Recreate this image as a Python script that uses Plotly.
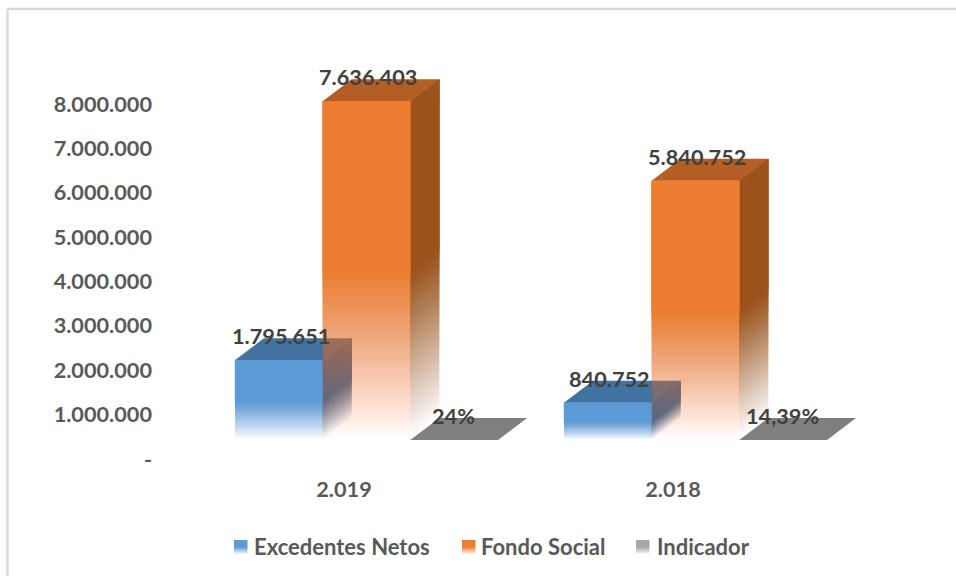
import plotly.graph_objects as go

categories = ["2.019", "2.018"]
series_names = ["Excedentes Netos", "Fondo Social", "Indicador"]
excedentes = [1795651, 840752]
fondo = [7636403, 5840752]
indicador = [0.24, 0.1439]
labels_exc = ["1.795.651", "840.752"]
labels_fon = ["7.636.403", "5.840.752"]
labels_ind = ["24%", "14,39%"]
y_ticks = [0, 1e6, 2e6, 3e6, 4e6, 5e6, 6e6, 7e6, 8e6]
y_ticktext = ["-", "1.000.000", "2.000.000", "3.000.000", "4.000.000",
              "5.000.000", "6.000.000", "7.000.000", "8.000.000"]

W, H = 956, 576
FONT = "Lato"
PX_PER_UNIT_Y = 44.375 / 1e6
PX_PER_CAT = 329.0
BAR_W = 87.7 / PX_PER_CAT
DEPTH_X = 29 / PX_PER_CAT
DEPTH_Y = 22 / PX_PER_UNIT_Y
N = 40
FADE = 0.5  # lower part of each bar that fades out


def rgba(c, a):
    return f"rgba({c[0]},{c[1]},{c[2]},{a:.4f})"


def bands(value):
    """Nested layers (base, alpha): each runs from base to the top of the column;
    together they build up a smooth vertical fade without seams."""
    out = []
    prev = 0.0
    step = value * FADE / N
    for k in range(N):
        target = (k + 0.5) / N
        out.append((k * step, 1 - (1 - target) / (1 - prev)))
        prev = target
    out.append((value * FADE, 1.0))
    return out


FRONT = {"Excedentes Netos": (91, 155, 213), "Fondo Social": (237, 125, 49)}
TOP = {"Excedentes Netos": (66, 114, 160), "Fondo Social": (178, 94, 37)}
SIDE = {"Excedentes Netos": (62, 104, 150), "Fondo Social": (156, 82, 27)}

fig = go.Figure()
shapes = []


def para_side(x, y0, y1, color, alpha):
    return dict(type="path", xref="x", yref="y", layer="below", line_width=0,
                fillcolor=rgba(color, alpha),
                path=f"M{x},{y0} L{x + DEPTH_X},{y0 + DEPTH_Y} "
                     f"L{x + DEPTH_X},{y1 + DEPTH_Y} L{x},{y1} Z")


def para_top(x, y, color):
    return dict(type="path", xref="x", yref="y", layer="below", line_width=0,
                fillcolor=rgba(color, 1),
                path=f"M{x},{y} L{x + BAR_W},{y} L{x + BAR_W + DEPTH_X},{y + DEPTH_Y} "
                     f"L{x + DEPTH_X},{y + DEPTH_Y} Z")


for j, (name, vals) in enumerate(zip(series_names[:2], [excedentes, fondo])):
    xs, bases, heights, colors = [], [], [], []
    for i, v in enumerate(vals):
        left = i + (j - 1.5) * BAR_W
        for b, a in bands(v):
            xs.append(i)
            bases.append(b)
            heights.append(v - b)
            colors.append(rgba(FRONT[name], a))
            shapes.append(para_side(left + BAR_W, b, v, SIDE[name], a))
        shapes.append(para_top(left, v, TOP[name]))
    fig.add_trace(go.Bar(x=xs, y=heights, base=bases, width=BAR_W,
                         offset=(j - 1.5) * BAR_W, name=name, showlegend=False,
                         marker=dict(color=colors, line_width=0), hoverinfo="skip"))

# Indicador: values are so small on this scale that only the top face shows
fig.add_trace(go.Bar(x=[0, 1], y=indicador, width=BAR_W, offset=0.5 * BAR_W,
                     name=series_names[2], showlegend=False,
                     marker=dict(color="#7f7f7f", line_width=0), hoverinfo="skip"))
for i, v in enumerate(indicador):
    shapes.append(para_top(i + 0.5 * BAR_W, v, (127, 127, 127)))

# label axes (the 3D floor sits in front of the axis plane)
fig.add_trace(go.Scatter(x=[0, 1], y=[0, 0], xaxis="x2", yaxis="y2", mode="markers",
                         marker=dict(opacity=0), showlegend=False, hoverinfo="skip"))

annotations = []
lab_font = dict(family=FONT, size=21.7, color="#404040", weight="bold")
label_dx = [2.0, 1.5, -1.0]
for j, (vals, texts) in enumerate(zip([excedentes, fondo, indicador],
                                      [labels_exc, labels_fon, labels_ind])):
    for i, (v, t) in enumerate(zip(vals, texts)):
        annotations.append(dict(x=i + (j - 1) * BAR_W, y=v, xref="x", yref="y", text=t,
                                showarrow=False, font=lab_font, yshift=24, xshift=label_dx[j]))

# legend
leg_font = dict(family=FONT, size=22, color="#595959", weight="bold")
leg = [(234, 254, FRONT["Excedentes Netos"]), (462, 481, FRONT["Fondo Social"]),
       (636, 657, (166, 166, 166))]
for name, (sx, tx, col) in zip(series_names, leg):
    annotations.append(dict(x=tx / W, y=1 - 546 / H, xref="paper", yref="paper",
                            xanchor="left", yanchor="middle", text=name, showarrow=False,
                            font=leg_font, xshift=-2))
    for k in range(14):
        a = 1.0 if k < 7 else 1 - (k - 6.5) / 7.5
        shapes.append(dict(type="rect", xref="paper", yref="paper", line_width=0,
                           x0=sx / W, x1=(sx + 13.5) / W,
                           y0=1 - (540 + k + 1) / H, y1=1 - (540 + k) / H,
                           fillcolor=rgba(col, a)))

# chart border
for x0, y0, x1, y1 in [(7.5, 9, 7.5, 576), (7.5, 9, 956, 9)]:
    shapes.append(dict(type="line", xref="paper", yref="paper", x0=x0 / W, x1=x1 / W,
                       y0=1 - y0 / H, y1=1 - y1 / H, line=dict(color="#d9d9d9", width=2.5)))

y_range = [0, 9e6]
top_bars = 440 - 9e6 * PX_PER_UNIT_Y
top_lab = 459 - 9e6 * PX_PER_UNIT_Y
tick_font = dict(family=FONT, size=21.7, color="#595959", weight="bold")

fig.update_layout(
    width=W, height=H, autosize=False, margin=dict(l=0, r=0, t=0, b=0, autoexpand=False),
    paper_bgcolor="white", plot_bgcolor="rgba(0,0,0,0)", barmode="overlay",
    shapes=shapes, annotations=annotations, hovermode=False,
    xaxis=dict(domain=[202 / W, 860 / W], range=[-0.5, 1.5], visible=False, fixedrange=True,
               automargin=False),
    yaxis=dict(domain=[1 - 440 / H, 1 - top_bars / H], range=y_range, visible=False,
               fixedrange=True, automargin=False),
    xaxis2=dict(domain=[179.5 / W, 837.5 / W], range=[-0.5, 1.5], anchor="free",
                position=1 - 474 / H, tickmode="array", tickvals=[0, 1], ticktext=categories,
                tickfont=tick_font, showgrid=False, zeroline=False, showline=False, ticks="",
                fixedrange=True, automargin=False),
    yaxis2=dict(domain=[1 - 459 / H, 1 - top_lab / H], range=y_range, anchor="free",
                position=152 / W, tickmode="array", tickvals=y_ticks, ticktext=y_ticktext,
                tickfont=tick_font, showgrid=False, zeroline=False, showline=False, ticks="",
                fixedrange=True, automargin=False),
)
fig.write_html("out.html", config={"displayModeBar": False},
               post_script="document.body.style.margin='0';document.documentElement.style.overflow='hidden';")
